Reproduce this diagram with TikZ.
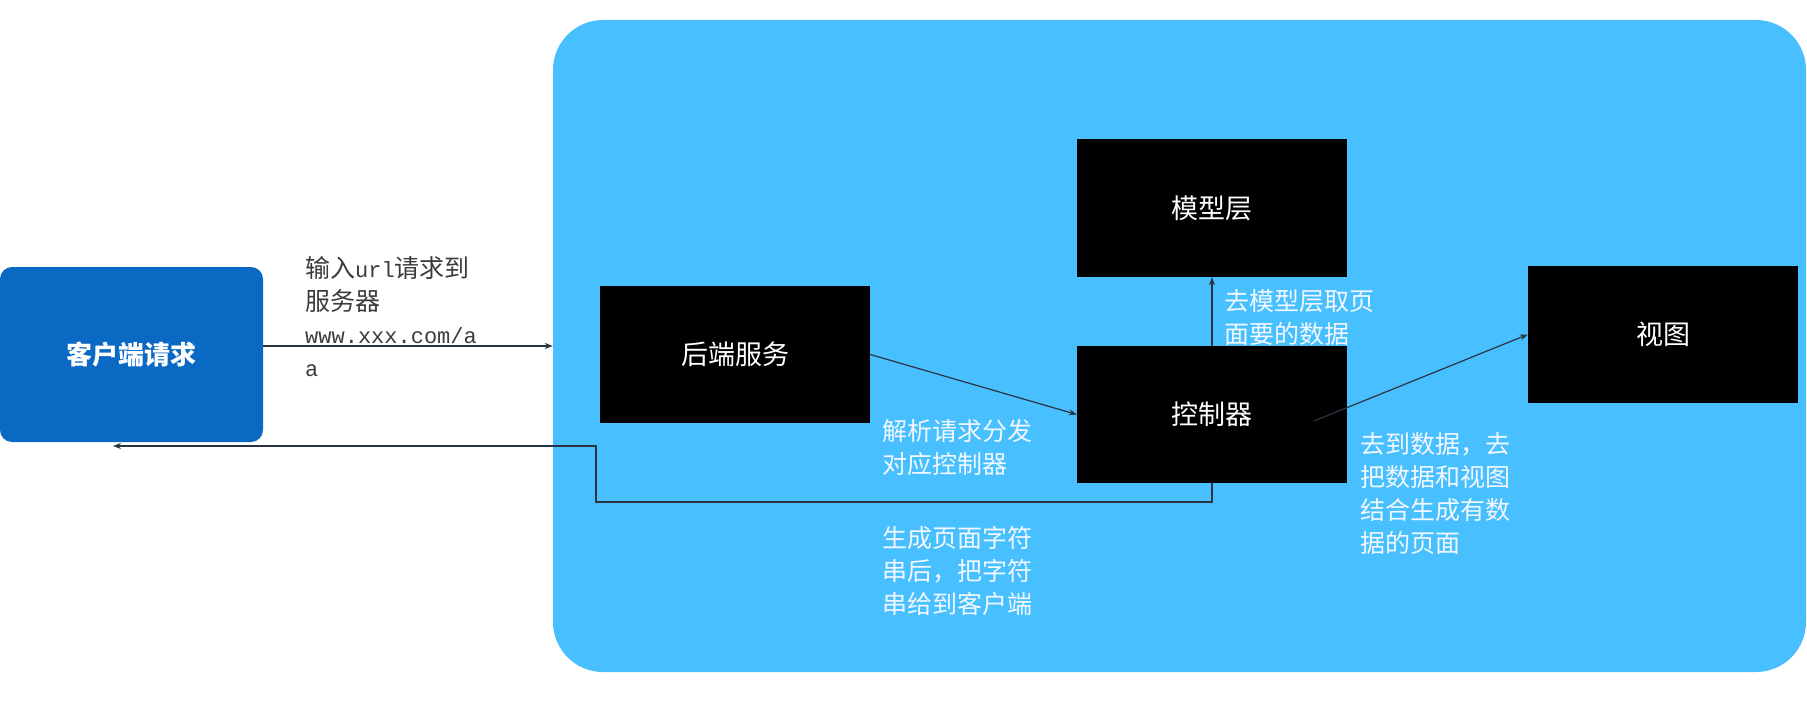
\documentclass[tikz,border=0pt]{standalone}
\usepackage{fontspec}
\newfontfamily\cjk{Noto Sans CJK SC}
\newfontfamily\monof{Liberation Mono}
\usetikzlibrary{arrows.meta,calc}
\definecolor{bgblue}{HTML}{48BFFF}
\definecolor{clientblue}{HTML}{0A69C3}
\definecolor{labgray}{HTML}{3C3C3C}
\definecolor{labwhite}{HTML}{F2F8FF}
\definecolor{linec}{HTML}{2A3440}
\tikzset{
  blackbox/.style={fill=black, draw=none, minimum width=270pt, minimum height=137pt, inner sep=0pt,
    text=white, font=\cjk\fontsize{27}{30}\selectfont},
  lab/.style={align=left, anchor=north west, inner sep=0pt, font=\cjk\fontsize{25}{33}\selectfont},
  conn/.style={draw=linec, line width=1.2pt, -{Stealth[length=8pt,width=6pt]}},
  plain/.style={draw=linec, line width=1.2pt}
}
\begin{document}
\begin{tikzpicture}[x=1pt,y=-1pt]
\useasboundingbox (0,0) rectangle (1807,714);
\fill[white] (0,0) rectangle (1807,714);
% background panel
\node[fill=bgblue, draw=none, rounded corners=50pt, minimum width=1253pt, minimum height=652pt, inner sep=0pt] (bg) at (1179.5,346) {};
% client
\node[fill=clientblue, draw=none, rounded corners=12pt, minimum width=263pt, minimum height=175pt, inner sep=0pt,
  text=white, font=\cjk\bfseries\fontsize{26}{30}\selectfont] (client) at (131.5,354.5) {客户端请求};
% boxes
\node[blackbox] (backend) at (735,354.5) {后端服务};
\node[blackbox, minimum height=138pt] (model) at (1212,208) {模型层};
\node[blackbox] (ctrl) at (1212,414.5) {控制器};
\node[blackbox] (view) at (1663,334.5) {视图};
% coordinates
\coordinate (r1) at (596,502);
\coordinate (rend) at (113,446);
\coordinate (cv) at (1314,421);
% connectors
\draw[conn] (client.east |- bg.west) -- (bg.west);
\draw[conn] (backend.east) -- (ctrl.west);
\draw[conn] (ctrl.north) -- (model.south);
\draw[conn] (cv) -- (view.west);
\draw[conn] (ctrl.south) |- (r1) |- (rend);
% labels
\node[lab, text=labgray] (l1) at (305,256) {输入{\monof\fontsize{22}{33}\selectfont url}请求到\\服务器\\{\monof\fontsize{22}{33}\selectfont www.xxx.com/a}\\{\monof\fontsize{22}{33}\selectfont a}};
\node[lab, text=labwhite] (l2) at (1224,289) {去模型层取页\\面要的数据};
\node[lab, text=labwhite] (l3) at (882,419) {解析请求分发\\对应控制器};
\node[lab, text=labwhite] (l4) at (882,526) {生成页面字符\\串后，把字符\\串给到客户端};
\node[lab, text=labwhite] (l5) at (1360,432) {去到数据，去\\把数据和视图\\结合生成有数\\据的页面};
\end{tikzpicture}
\end{document}
